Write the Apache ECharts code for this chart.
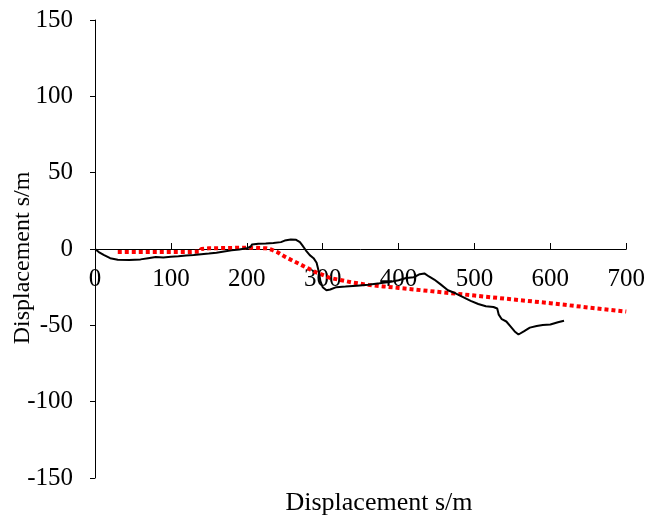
<!DOCTYPE html>
<html><head><meta charset="utf-8">
<script src="https://cdn.jsdelivr.net/npm/echarts@6/dist/echarts.min.js"></script>
<style>html,body{margin:0;padding:0;background:#fff}#c{width:648px;height:518px}</style>
</head><body><div id="c"></div>
<script>
const xTitle = 'Displacement s/m';
const yTitle = 'Displacement s/m';
const measured = [[0,0],[5,-2],[12,-4],[20,-6],[30,-7],[45,-7.2],[60,-6.8],[70,-6],[80,-5.2],[90,-5.5],[100,-5],[110,-4.8],[120,-4.2],[130,-4],[140,-3.5],[150,-3],[160,-2.4],[170,-1.6],[180,-0.9],[190,-0.3],[200,0.5],[205,1.5],[207,3],[215,3.5],[225,3.6],[235,4],[245,4.5],[250,5.5],[258,6.2],[265,6],[270,4.5],[273,2.5],[278,-1],[283,-4],[288,-6],[292,-9],[295,-15],[297,-21],[300,-25],[305,-27],[310,-26.5],[318,-25],[330,-24.6],[345,-24],[360,-23.4],[375,-22.5],[390,-21.5],[400,-20.5],[410,-19],[420,-18.5],[428,-16.5],[434,-16],[440,-18],[447,-20],[455,-23],[465,-27],[475,-29],[485,-31.5],[495,-34],[505,-36],[515,-37.5],[525,-38],[530,-39],[532,-43],[536,-46],[542,-47.5],[548,-51],[553,-54],[558,-56],[565,-54],[573,-51.5],[582,-50.5],[590,-49.8],[600,-49.5],[610,-48],[618,-47]];
const predicted = [[30,-2],[60,-2],[90,-2],[120,-2],[138,-1.8],[140,0],[150,0.5],[170,0.6],[190,0.8],[210,0.8],[225,0.5],[233,-0.5],[240,-2],[250,-5],[260,-7.5],[270,-10],[280,-12.5],[290,-15],[300,-17],[310,-19],[320,-20],[340,-22],[360,-23.5],[380,-24.5],[400,-25.5],[450,-28],[500,-30.5],[550,-33],[600,-35.5],[650,-38.3],[700,-41]];

const font = '"Liberation Serif","Times New Roman",serif';
const chart = echarts.init(document.getElementById('c'), null, {renderer:'canvas'});
chart.setOption({
  animation:false,
  grid:{left:95, top:20, width:535, height:458, containLabel:false},
  xAxis:{type:'value', min:0, max:700, interval:100, position:'bottom', offset:-229,
    axisLine:{onZero:false, lineStyle:{color:'#000', width:1}},
    axisTick:{inside:true, length:6, lineStyle:{color:'#000'}},
    axisLabel:{fontFamily:font, fontSize:25, color:'#000', margin:18},
    splitLine:{show:false}},
  yAxis:{type:'value', min:-150, max:150, interval:50,
    axisLine:{show:true, lineStyle:{color:'#000', width:1}},
    axisTick:{show:true, inside:false, length:5, lineStyle:{color:'#000'}},
    axisLabel:{fontFamily:font, fontSize:25, color:'#000', margin:22},
    splitLine:{show:false}},
  graphic:[
    {type:'text', x:0, y:0, style:{text:xTitle, font:'26px '+font, fill:'#000', x:379, y:503, align:'center', verticalAlign:'middle'}},
    {type:'text', rotation:Math.PI/2, x:23, y:258, style:{text:yTitle, font:'24px '+font, fill:'#000', align:'center', verticalAlign:'middle'}}
  ],
  series:[
    {type:'line', data:predicted, showSymbol:false, lineStyle:{color:'#ff0000', width:4, type:[4,3]}, z:2},
    {type:'line', data:measured, showSymbol:false, lineStyle:{color:'#000', width:2}, z:3}
  ]
});
</script></body></html>
